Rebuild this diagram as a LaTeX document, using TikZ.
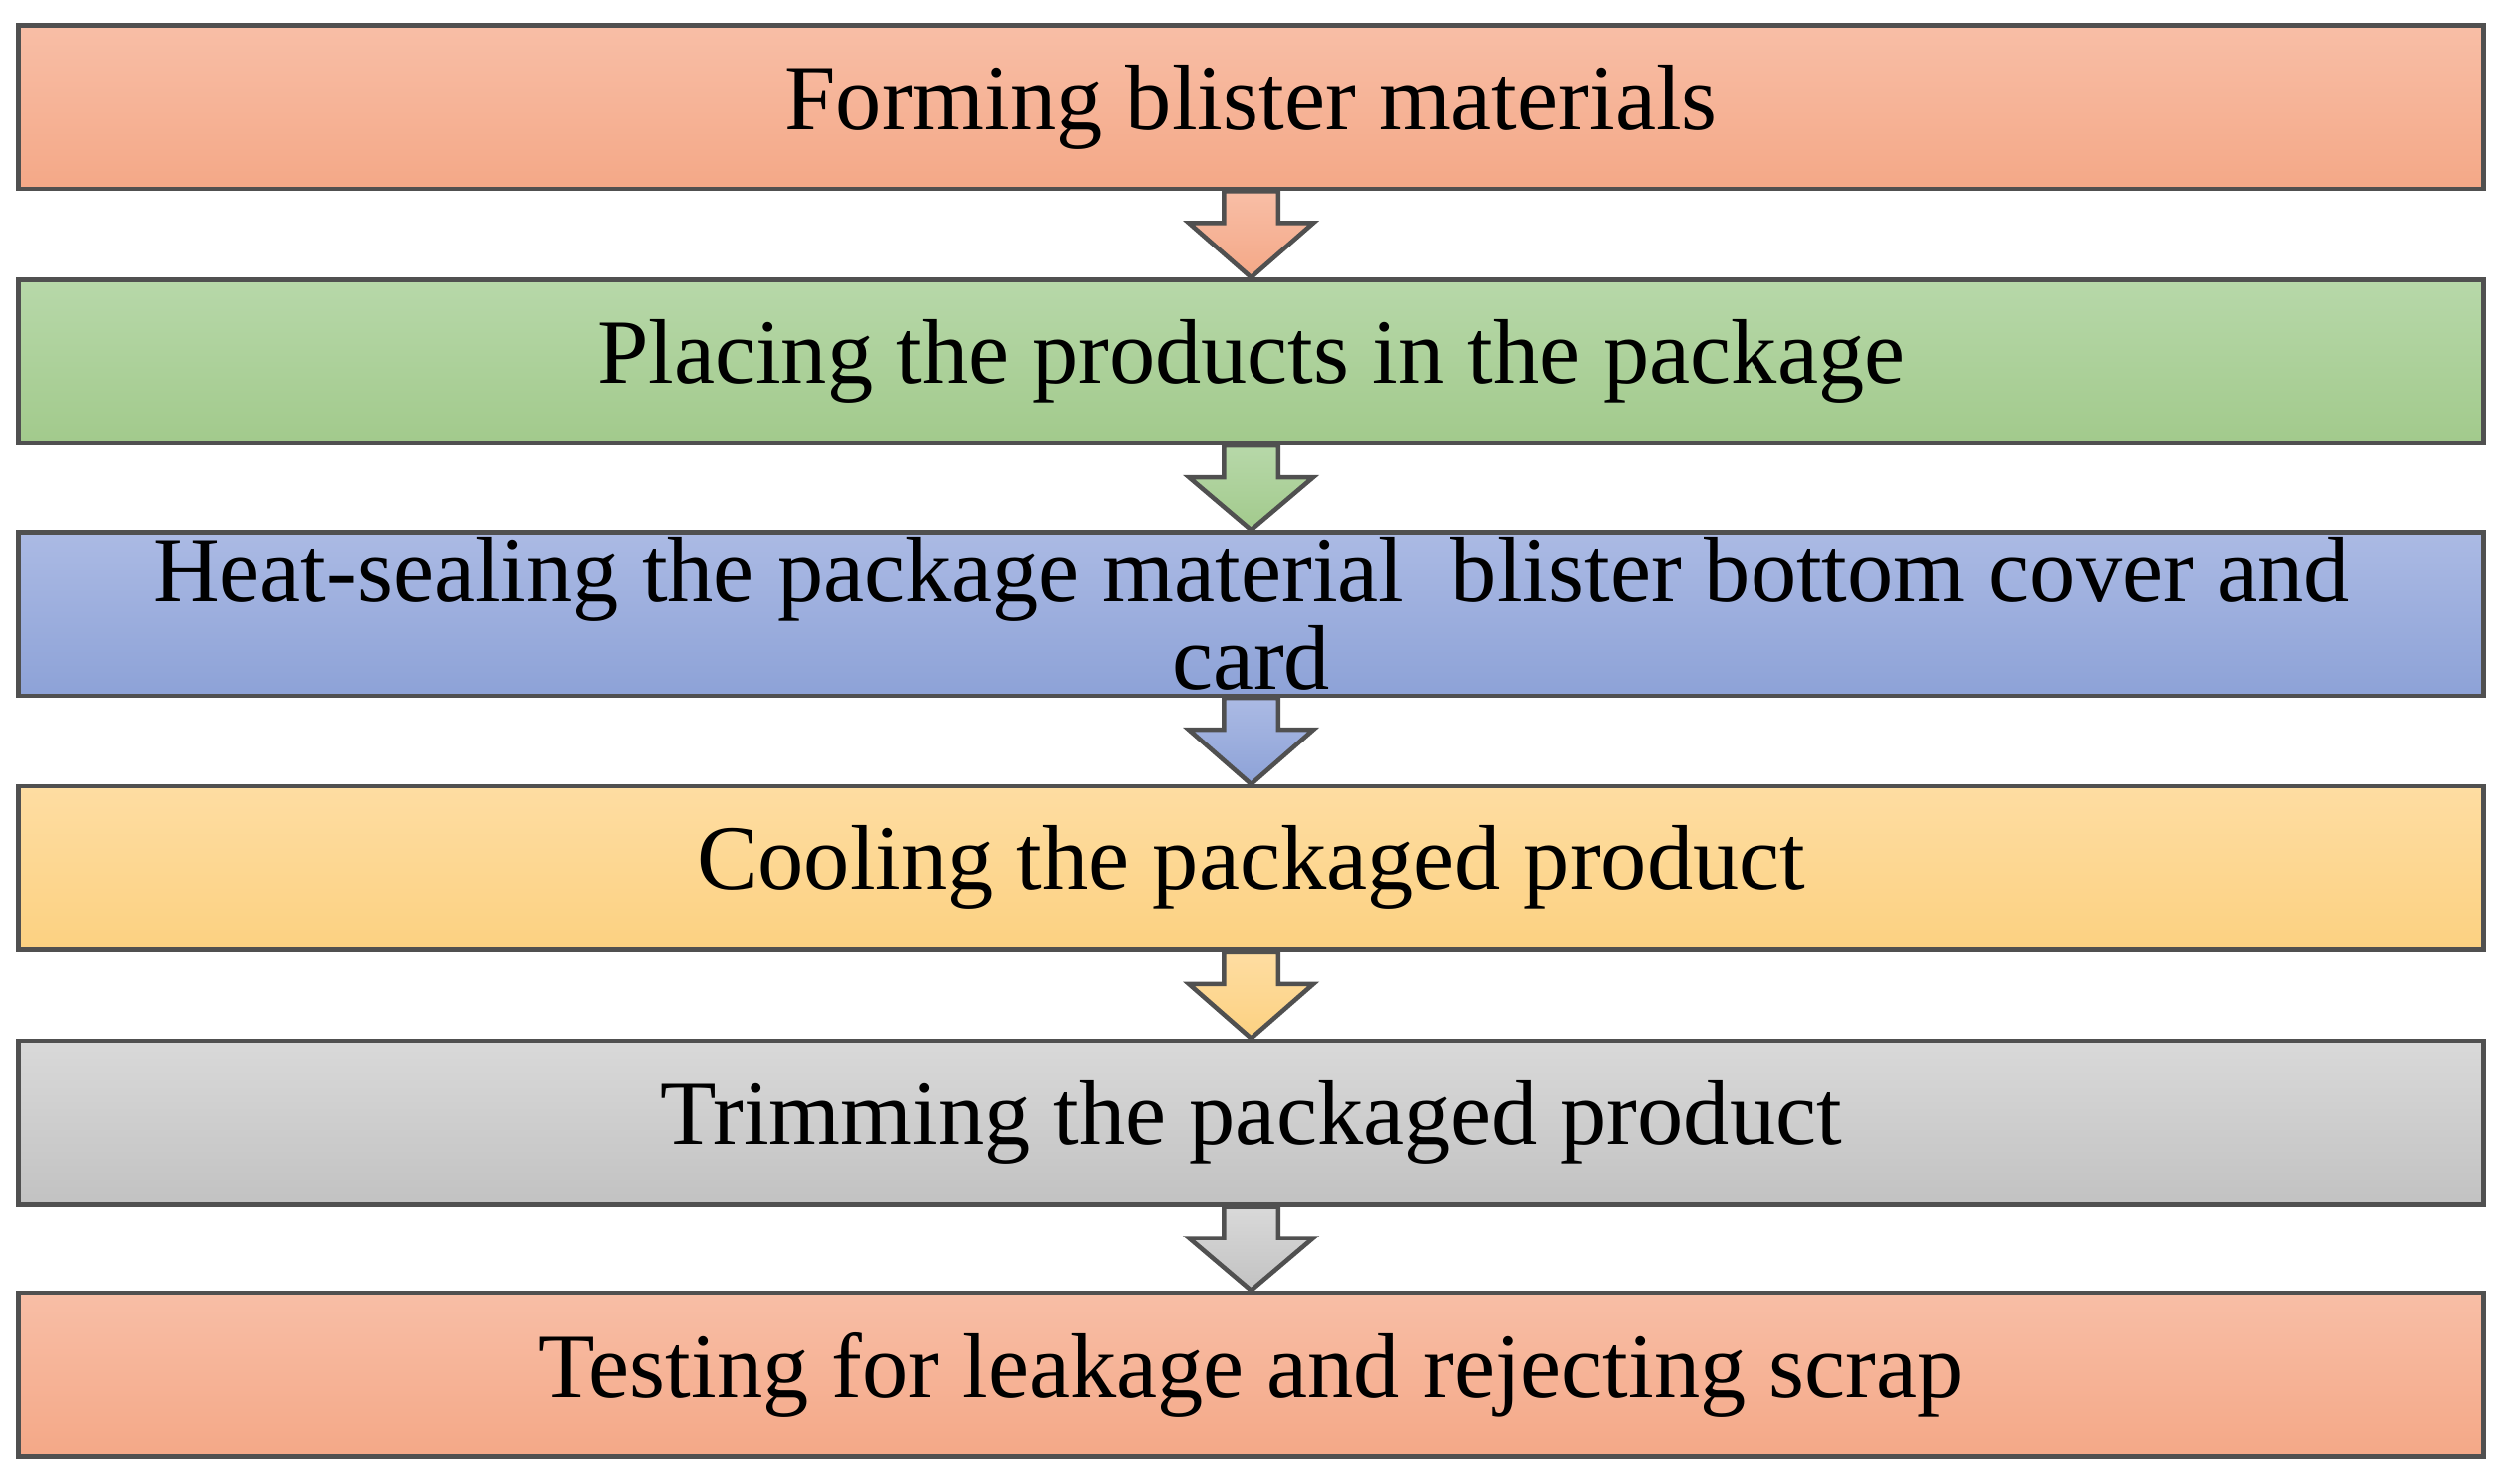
\documentclass[tikz,border=0pt]{standalone}
\usepackage{fontspec}
\setmainfont{Liberation Serif}
\usetikzlibrary{calc}
\definecolor{oT}{HTML}{F8BEA6}\definecolor{oB}{HTML}{F4A887}
\definecolor{gT}{HTML}{B7D8A9}\definecolor{gB}{HTML}{A2CA8C}
\definecolor{bT}{HTML}{ABBAE4}\definecolor{bB}{HTML}{8DA2D7}
\definecolor{yT}{HTML}{FEDDA2}\definecolor{yB}{HTML}{FCD181}
\definecolor{sT}{HTML}{D9D9D9}\definecolor{sB}{HTML}{C2C2C2}
\definecolor{edge}{HTML}{505050}
\begin{document}
\begin{tikzpicture}[x=0.01cm,y=-0.01cm,
  box/.style n args={2}{draw=edge,line width=0.8pt,top color=#1,bottom color=#2,minimum width=15.41cm,minimum height=1.02cm,inner sep=0pt,font=\fontsize{16.4pt}{15.6pt}\selectfont,align=center},
  arr/.style n args={2}{draw=edge,line width=0.8pt,top color=#1,bottom color=#2}]
\useasboundingbox (0,0) rectangle (1568,928);
\node[box={oT}{oB}] (b1) at (782.5,67) {Forming blister materials};
\node[box={gT}{gB}] (b2) at (782.5,226) {Placing the products in the package};
\node[box={bT}{bB}] (b3) at (782.5,384) {Heat-sealing the package material\ \ blister bottom cover and\\card};
\node[box={yT}{yB}] (b4) at (782.5,543) {Cooling the packaged product};
\node[box={sT}{sB}] (b5) at (782.5,702) {Trimming the packaged product};
\node[box={oT}{oB}] (b6) at (782.5,860) {Testing for leakage and rejecting scrap};
\foreach \a/\b/\c/\d in {b1/b2/oT/oB,b2/b3/gT/gB,b3/b4/bT/bB,b4/b5/yT/yB,b5/b6/sT/sB}{
  \draw[arr={\c}{\d}] ($(\a.south)+(-17,0)$) -- ($(\a.south)+(17,0)$) -- ($(\a.south)+(17,20)$) -- ($(\a.south)+(39,20)$) -- (\b.north) -- ($(\a.south)+(-39,20)$) -- ($(\a.south)+(-17,20)$) -- cycle;
}
\end{tikzpicture}
\end{document}
